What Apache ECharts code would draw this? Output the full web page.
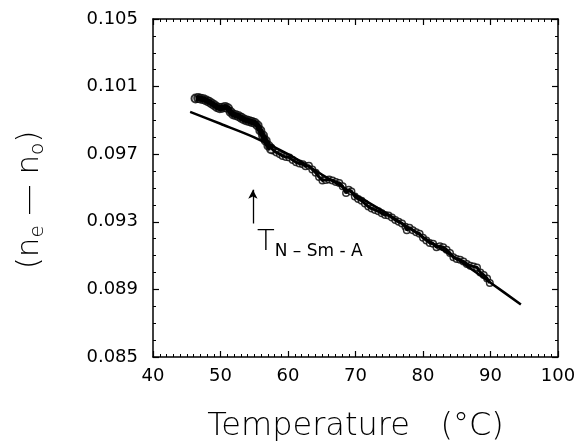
<!DOCTYPE html>
<html>
<head>
<meta charset="utf-8">
<script src="https://cdn.jsdelivr.net/npm/echarts@6/dist/echarts.min.js"></script>
<style>
  html, body { margin: 0; padding: 0; background: #fff; }
  #chart { width: 581px; height: 442px; }
</style>
</head>
<body>
<div id="chart"></div>
<script>
// fitted curve
var fitT = [45.5, 50, 55, 60, 65, 70, 75, 80, 85, 90, 94.5];
var fitN = [0.0995, 0.0988, 0.0980, 0.0970, 0.0958, 0.0946, 0.0934, 0.0921, 0.0908, 0.0894, 0.0881];

// measured points, dense part below the transition
var bandT = [46.3, 46.7, 47.1, 47.5, 47.9, 48.3, 48.7, 49.1, 49.5, 49.9, 50.3, 50.7, 51.1, 51.5,
             51.9, 52.3, 52.7, 53.1, 53.5, 53.9, 54.3, 54.7, 55.1, 55.5, 55.9, 56.3, 56.7, 57.1, 57.5];
var bandN = [0.1003, 0.10032, 0.10028, 0.10025, 0.10018, 0.1001, 0.1, 0.0999, 0.09978, 0.09972,
             0.09975, 0.0998, 0.09972, 0.0995, 0.09935, 0.0993, 0.09925, 0.09915, 0.09905, 0.099,
             0.09895, 0.0989, 0.09885, 0.0987, 0.0984, 0.0981, 0.0978, 0.0975, 0.0973];

// measured points above the transition
var traceT = [57.5, 57.9, 58.3, 58.8, 59.2, 59.7, 60.2, 60.7, 61.2, 61.7, 62.2, 62.6, 63.1, 63.6,
              64.1, 64.6, 65.1, 65.6, 66.1, 66.6, 67.1, 67.6, 68.1, 68.6, 69.0, 69.4, 69.9, 70.4,
              70.9, 71.4, 71.9, 72.4, 72.9, 73.4, 73.9, 74.4, 74.9, 75.4, 75.9, 76.4, 76.9, 77.4,
              77.6, 78.0, 78.5, 79.0, 79.5, 80.0, 80.5, 81.0, 81.5, 82.0, 82.5, 83.0, 83.5, 84.0,
              84.5, 85.0, 85.5, 86.0, 86.5, 87.0, 87.5, 88.0, 88.5, 89.0, 89.5, 89.9];
var traceN = [0.0974, 0.0972, 0.0971, 0.097, 0.0969, 0.09683, 0.0968, 0.09665, 0.09652, 0.09645,
              0.0964, 0.09628, 0.09632, 0.0961, 0.0959, 0.09565, 0.09545, 0.09548, 0.0955, 0.09545,
              0.09535, 0.0953, 0.0951, 0.0947, 0.0949, 0.0948, 0.0945, 0.09435, 0.09425, 0.09408,
              0.0939, 0.09378, 0.0937, 0.09362, 0.0935, 0.0934, 0.09338, 0.09325, 0.0931, 0.093,
              0.0929, 0.0927, 0.0925, 0.09265, 0.0925, 0.09238, 0.0923, 0.09205, 0.0919, 0.09175,
              0.0917, 0.0915, 0.09155, 0.0915, 0.09135, 0.09115, 0.0909, 0.0908, 0.09075, 0.09065,
              0.0905, 0.0904, 0.09035, 0.0903, 0.09, 0.08985, 0.08965, 0.08938];

var xTicks = [40, 100, 10];
var yTicks = [0.085, 0.105, 0.004];

// arrow and label for the transition
var arrowFrom = [54.8, 0.0929];
var arrowTo = [54.8, 0.0949];
var labelAt = [55.4, 0.0928];

function pairs(xs, ys) {
    return xs.map(function (x, i) { return [x, ys[i]]; });
}

var font = 'DejaVu Sans';

function xAxisDef(pos, showLabels) {
    return {
        type: 'value', position: pos, min: xTicks[0], max: xTicks[1], interval: xTicks[2],
        axisLine: { show: true, onZero: false, lineStyle: { color: '#000', width: 1.5 } },
        axisTick: { inside: true, length: 6, lineStyle: { color: '#000', width: 1.2 } },
        minorTick: { show: true, splitNumber: 10, length: 3, lineStyle: { color: '#000', width: 1 } },
        splitLine: { show: false },
        axisLabel: { show: showLabels, color: '#000', fontFamily: font, fontSize: 18, margin: 10 }
    };
}

function yAxisDef(pos, showLabels) {
    return {
        type: 'value', position: pos, min: yTicks[0], max: yTicks[1], interval: yTicks[2],
        axisLine: { show: true, onZero: false, lineStyle: { color: '#000', width: 1.5 } },
        axisTick: { inside: true, length: 6, lineStyle: { color: '#000', width: 1.2 } },
        minorTick: { show: true, splitNumber: 4, length: 3, lineStyle: { color: '#000', width: 1 } },
        splitLine: { show: false },
        axisLabel: {
            show: showLabels, color: '#000', fontFamily: font, fontSize: 18, margin: 15,
            formatter: function (v) { return v.toFixed(3); }
        }
    };
}

var xBottom = xAxisDef('bottom', true);
xBottom.name = 'Temperature   (°C)';
xBottom.nameLocation = 'middle';
xBottom.nameGap = 54;
xBottom.nameTextStyle = { color: '#000', fontFamily: font, fontWeight: 200, fontSize: 32 };

var yLeft = yAxisDef('left', true);
yLeft.name = '{m|(n}{s|e}{m| — n}{s|o}{m|)}';
yLeft.nameLocation = 'middle';
yLeft.nameGap = 105;
yLeft.nameTextStyle = {
    color: '#000', fontFamily: font, padding: [0, 24, 0, 0],
    rich: {
        m: { fontSize: 31, fontFamily: font, fontWeight: 200, color: '#000', lineHeight: 36 },
        s: { fontSize: 20, fontFamily: font, fontWeight: 200, color: '#000', padding: [15, 0, 0, 0] }
    }
};

var chart = echarts.init(document.getElementById('chart'));
chart.setOption({
    animation: false,
    backgroundColor: '#fff',
    grid: { left: 153, right: 23, top: 19, bottom: 85, outerBoundsMode: 'none' },
    xAxis: [xBottom, xAxisDef('top', false)],
    yAxis: [yLeft, yAxisDef('right', false)],
    series: [
        {
            type: 'line', smooth: 0.3, showSymbol: false, data: pairs(fitT, fitN),
            lineStyle: { color: '#000', width: 2.5 },
            markLine: {
                silent: true, symbol: ['none', 'arrow'], symbolSize: [7, 9],
                label: { show: false },
                lineStyle: { color: '#000', width: 1.3, type: 'solid' },
                data: [[{ coord: arrowFrom }, { coord: arrowTo }]]
            },
            markPoint: {
                silent: true, symbol: 'circle', symbolSize: 0,
                data: [{ coord: labelAt }],
                label: {
                    show: true, position: [0, 0], align: 'left', verticalAlign: 'top',
                    formatter: '{t|T}{s|N – Sm - A}',
                    rich: {
                        t: { fontSize: 29, fontFamily: font, fontWeight: 200, color: '#000', lineHeight: 32 },
                        s: { fontSize: 17, fontFamily: font, color: '#000', padding: [18, 0, 0, 0] }
                    }
                }
            }
        },
        {
            type: 'scatter', data: pairs(traceT, traceN),
            symbol: 'circle', symbolSize: 6.5,
            itemStyle: { color: '#fff', borderColor: '#000', borderWidth: 1.5 }
        },
        {
            type: 'scatter', data: pairs(bandT, bandN),
            symbol: 'circle', symbolSize: 8,
            itemStyle: { color: '#fff', borderColor: '#000', borderWidth: 2 }
        },
        {
            type: 'line', showSymbol: false, data: pairs(bandT, bandN), z: 4,
            lineStyle: { color: '#000', width: 6 }
        },
        {
            type: 'line', showSymbol: false, data: pairs(traceT, traceN), z: 4,
            lineStyle: { color: '#000', width: 3 }
        }
    ]
});
</script>
</body>
</html>
